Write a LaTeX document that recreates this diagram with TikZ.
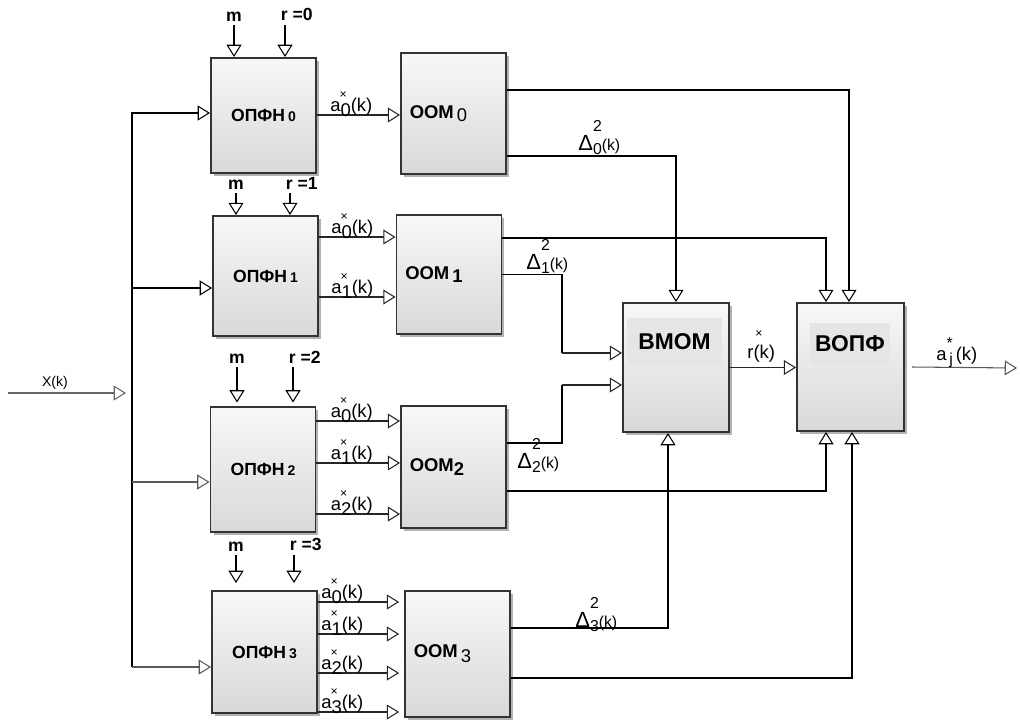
\documentclass[tikz,border=0pt]{standalone}
\usepackage{fontspec}
\setmainfont{Liberation Sans}
\usepackage{tikz}
\usetikzlibrary{arrows.meta, calc, positioning, shadows}

\tikzset{
  tri/.tip={Triangle[fill=white, line width=0.6pt, length=7pt, width=8.5pt]},
  blk/.style={draw=black!80, line width=1.1pt, top color=gray!6, bottom color=gray!30,
    drop shadow={shadow xshift=1.7pt, shadow yshift=-1.7pt, fill=gray!60, opacity=1},
    inner sep=0pt, font=\normalsize\bfseries},
  hdr/.style={fill=gray!20, inner sep=0pt, font=\fontsize{13}{15}\selectfont\bfseries},
  thk/.style={line width=1.1pt, -tri},
  thn/.style={line width=0.6pt, black!85, -tri},
  lbl/.style={font=\fontsize{10.5}{12}\selectfont, inner sep=0pt},
  ctl/.style={font=\normalsize\bfseries, inner sep=2pt},
}
\newcommand{\ax}[1]{a\rlap{\raisebox{1.3ex}{\kern-0.05em\scriptsize ×}}\raisebox{-0.55ex}{#1}(k)}
\newcommand{\dq}[1]{{\fontsize{12.5}{14}\selectfont Δ}\rlap{\raisebox{1.9ex}{\small 2}}\raisebox{-0.5ex}{\small #1}{\small (k)}}

\begin{document}
\begin{tikzpicture}[x=0.02cm, y=-0.02cm]
\useasboundingbox (0,0) rectangle (1020,720);

\foreach \i/\x/\y/\h in {0/263.5/115.5/2.3, 1/265.5/276/2.4, 2/263/469.5/2.5, 3/264.5/652/2.44}
  \node[blk, minimum width=2.1cm, minimum height=\h cm] (f\i) at (\x,\y) {ОПФН\,{\footnotesize\i}};

\foreach \i/\x/\y/\h/\t in {0/453.5/113.5/2.42/{\,{\mdseries\raisebox{-0.3ex}{0}}},
    1/449/274.5/2.38/{\,\raisebox{-0.3ex}{1}}, 2/453.5/467/2.44/{\raisebox{-0.5ex}{2}},
    3/457.5/654/2.52/{\,{\mdseries\raisebox{-0.5ex}{3}}}}
  \node[blk, font=\fontsize{10.5}{12}\selectfont\bfseries, minimum width=2.1cm, minimum height=\h cm,
    text width=1.75cm, align=left] (o\i) at (\x,\y) {ООМ\t};

\node[blk, minimum width=2.12cm, minimum height=2.58cm] (vm) at (676,367.5) {};
\node[hdr, minimum width=1.9cm, minimum height=0.94cm] (vmt) at (674.5,341.5) {ВМОМ};
\node[blk, minimum width=2.14cm, minimum height=2.56cm] (vo) at (850.5,367) {};
\node[hdr, minimum width=1.6cm, minimum height=0.82cm] (vot) at (850,343.5) {ВОПФ};

\coordinate (bt) at (132,113);
\coordinate (b1) at (132,288);
\coordinate (b2) at (132,482);
\coordinate (bb) at (132,667);
\draw[thk] (bb) -- (bt) -- (bt -| f0.west);
\draw[thk] (b1) -- (b1 -| f1.west);
\draw[thn, black!65] (b2) -- (b2 -| f2.west);
\draw[thn, black!65] (bb) -- (bb -| f3.west);

\coordinate (xin) at (8,393);
\draw[thn, black!60, shorten >=3.4pt] (xin) -- (xin -| bt);
\node[lbl, font=\footnotesize] (xl) at (55,383) {X(k)};

\foreach \i/\mx/\rx/\ys/\g in {0/234/285/25/0, 1/236/290/193/0, 2/237/293/367/2, 3/236/294/555/4}{
  \coordinate (m\i) at (\mx,\ys);
  \coordinate (r\i) at (\rx,\ys);
  \draw[thk, shorten >=\g pt] (m\i) -- (m\i |- f\i.north);
  \draw[thk, shorten >=\g pt] (r\i) -- (r\i |- f\i.north);
  \node[ctl, anchor=south] (ml\i) at (m\i) {m};
  \node[ctl, anchor=south west, xshift=-4.5pt] (rl\i) at (r\i) {r =\i};
}

\foreach \b/\ls/\d/\g in {0/{115}/13/0, 1/{237,297}/12/0, 2/{421,463,514}/14/0, 3/{602,634,673,712}/3/2.8}{
  \foreach \y [count=\j from 0] in \ls {
    \coordinate (yy) at (0,\y);
    \coordinate (p\b\j) at (f\b.east |- yy);
    \draw[thn, shorten >=\g pt] (p\b\j) -- (p\b\j -| o\b.west);
    \node[lbl, anchor=base west] (al\b\j) at ([xshift=\d*0.02cm, yshift=0.08cm]p\b\j) {\ax{\j}};
  }
}

\draw[thk] ([yshift=0.47cm]o0.east) -| ([xshift=-0.03cm]vo.north);
\draw[thk] ([yshift=-0.85cm]o0.east) -| (vm.north);
\draw[thk] ([yshift=0.73cm]o1.east) -| ([xshift=-0.49cm]vo.north);
\coordinate (d1) at (562,353);
\coordinate (d2) at (562,385);
\draw[line width=1.1pt] (o1.east) -| (d1);
\draw[thn] (d1) -- (d1 -| vm.west);
\draw[line width=1.1pt] ([yshift=0.48cm]o2.east) -| (d2);
\draw[thn] (d2) -- (d2 -| vm.west);
\draw[thk] ([yshift=-0.48cm]o2.east) -| ([xshift=-0.49cm]vo.south);
\draw[thk] ([yshift=0.52cm]o3.east) -| ([xshift=-0.16cm]vm.south);
\draw[thk] ([yshift=-0.48cm]o3.east) -| ([xshift=0.03cm]vo.south);
\draw[thn, line width=0.9pt] (vm.east) -- (vm.east -| vo.west);
\coordinate (out) at (1017,368);
\draw[thn, black!65] ([xshift=0.14cm]vo.east) -- (out);

\node[lbl, anchor=base west] (dl0) at (578,150) {\dq{0}};
\node[lbl, anchor=base west] (dl1) at (526,269) {\dq{1}};
\node[lbl, anchor=base west] (dl2) at (517,468) {\dq{2}};
\node[lbl, anchor=base west] (dl3) at (575,627) {\dq{3}};
\node[lbl, anchor=base west] (rk) at (747,358) {r\rlap{\raisebox{2.1ex}{\kern0.1em\scriptsize ×}}(k)};
\node[lbl, anchor=base west] (aj) at (936,360) {a\rlap{\raisebox{1.2ex}{\small *}}\raisebox{-0.5ex}{\small\,j}\,(k)};
\end{tikzpicture}
\end{document}
